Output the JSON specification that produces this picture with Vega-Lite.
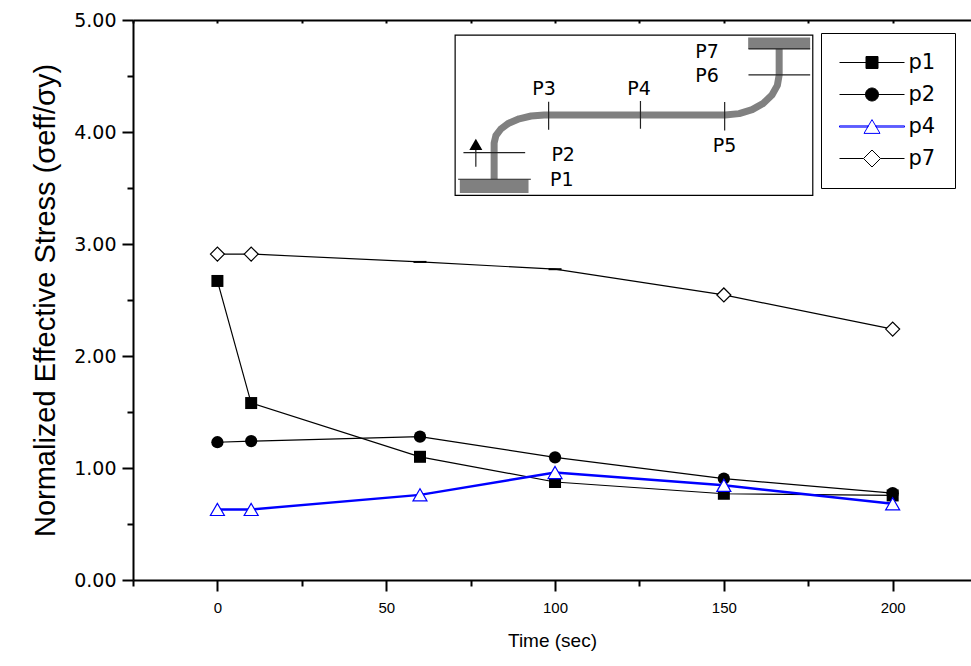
{
  "$schema": "https://vega.github.io/schema/vega-lite/v6.json",
  "width": 838,
  "height": 560,
  "autosize": "none",
  "padding": {"left": 133, "top": 20, "right": 0, "bottom": 86},
  "background": "white",
  "datasets": {
    "stress": [
      {"series": "p1", "x": 0, "y": 2.67}, {"series": "p1", "x": 10, "y": 1.58}, {"series": "p1", "x": 60, "y": 1.1},
      {"series": "p1", "x": 100, "y": 0.875}, {"series": "p1", "x": 150, "y": 0.77}, {"series": "p1", "x": 200, "y": 0.755},
      {"series": "p2", "x": 0, "y": 1.23}, {"series": "p2", "x": 10, "y": 1.24}, {"series": "p2", "x": 60, "y": 1.28},
      {"series": "p2", "x": 100, "y": 1.095}, {"series": "p2", "x": 150, "y": 0.905}, {"series": "p2", "x": 200, "y": 0.775},
      {"series": "p4", "x": 0, "y": 0.63}, {"series": "p4", "x": 10, "y": 0.63}, {"series": "p4", "x": 60, "y": 0.76},
      {"series": "p4", "x": 100, "y": 0.96}, {"series": "p4", "x": 150, "y": 0.845}, {"series": "p4", "x": 200, "y": 0.68},
      {"series": "p7", "x": 0, "y": 2.91}, {"series": "p7", "x": 10, "y": 2.91}, {"series": "p7", "x": 60, "y": 2.84},
      {"series": "p7", "x": 100, "y": 2.775}, {"series": "p7", "x": 150, "y": 2.545}, {"series": "p7", "x": 200, "y": 2.24}
    ],
    "box": [{"x": 70.41, "x2": 176.34, "y": 3.435, "y2": 4.865}],
    "plates": [
      {"x": 71.8, "x2": 92.15, "y": 3.455, "y2": 3.575},
      {"x": 157.2, "x2": 175.56, "y": 4.74, "y2": 4.844}
    ],
    "pipe": [
      {"i": 1, "x": 81.96, "y": 3.578}, {"i": 2, "x": 81.96, "y": 3.902}, {"i": 3, "x": 82.47, "y": 3.967},
      {"i": 4, "x": 83.95, "y": 4.027}, {"i": 5, "x": 86.29, "y": 4.079}, {"i": 6, "x": 89.37, "y": 4.118},
      {"i": 7, "x": 92.92, "y": 4.143}, {"i": 8, "x": 96.77, "y": 4.152}, {"i": 9, "x": 150.38, "y": 4.152},
      {"i": 10, "x": 154.53, "y": 4.164}, {"i": 11, "x": 158.38, "y": 4.2}, {"i": 12, "x": 161.7, "y": 4.256},
      {"i": 13, "x": 164.25, "y": 4.33}, {"i": 14, "x": 165.85, "y": 4.416}, {"i": 15, "x": 166.38, "y": 4.509},
      {"i": 16, "x": 166.38, "y": 4.746}
    ],
    "segs": [
      {"x": 71.3, "x2": 92.83, "y": 3.578, "y2": 3.578},
      {"x": 72.87, "x2": 91.15, "y": 3.815, "y2": 3.815},
      {"x": 76.54, "x2": 76.54, "y": 3.69, "y2": 3.85},
      {"x": 98.1, "x2": 98.1, "y": 4.02, "y2": 4.27},
      {"x": 125.3, "x2": 125.3, "y": 4.029, "y2": 4.277},
      {"x": 150.24, "x2": 150.24, "y": 4.013, "y2": 4.268},
      {"x": 157.29, "x2": 175.56, "y": 4.51, "y2": 4.51},
      {"x": 157.29, "x2": 175.56, "y": 4.742, "y2": 4.742}
    ],
    "arrow": [{"x": 76.54, "y": 3.89}],
    "tags": [
      {"label": "P1", "x": 102.0, "y": 3.57},
      {"label": "P2", "x": 102.4, "y": 3.795},
      {"label": "P3", "x": 96.75, "y": 4.381},
      {"label": "P4", "x": 124.85, "y": 4.381},
      {"label": "P5", "x": 150.18, "y": 3.878},
      {"label": "P6", "x": 145.03, "y": 4.503},
      {"label": "P7", "x": 145.03, "y": 4.713}
    ]
  },
  "encoding": {
    "x": {"field": "x", "type": "quantitative", "scale": {"domain": [-25, 223.2], "nice": false, "zero": false}, "axis": null},
    "y": {"field": "y", "type": "quantitative", "scale": {"domain": [0, 5], "nice": false, "zero": false}, "axis": null}
  },
  "layer": [
    {
      "data": {"name": "box"},
      "mark": {"type": "rect", "fill": "white", "stroke": "black", "strokeWidth": 1.2},
      "encoding": {
        "x": {
          "field": "x", "type": "quantitative",
          "scale": {"domain": [-25, 223.2], "nice": false, "zero": false},
          "axis": {
            "orient": "bottom", "values": [0, 50, 100, 150, 200], "format": "d", "tickSize": 11,
            "labelFont": "Liberation Sans", "labelFontSize": 15, "labelPadding": 9,
            "title": "Time (sec)", "titleFont": "Liberation Sans", "titleFontSize": 19, "titlePadding": 16
          }
        },
        "x2": {"field": "x2"},
        "y": {
          "field": "y", "type": "quantitative",
          "scale": {"domain": [0, 5], "nice": false, "zero": false},
          "axis": {
            "orient": "left", "values": [0, 1, 2, 3, 4, 5], "format": ".2f", "tickSize": 11,
            "labelFont": "DejaVu Sans", "labelFontSize": 19, "labelPadding": 6,
            "title": "Normalized Effective Stress  (σeff/σy)", "titleFont": "Liberation Sans", "titleFontSize": 29, "titlePadding": 13
          }
        },
        "y2": {"field": "y2"}
      }
    },
    {
      "data": {"name": "plates"},
      "mark": {"type": "rect", "fill": "#808080"},
      "encoding": {
        "x": {
          "field": "x", "type": "quantitative",
          "scale": {"domain": [-25, 223.2], "nice": false, "zero": false},
          "axis": {"orient": "bottom", "values": [-25, 25, 75, 125, 175], "tickSize": 6, "labels": false, "domain": false, "title": null}
        },
        "x2": {"field": "x2"},
        "y": {
          "field": "y", "type": "quantitative",
          "scale": {"domain": [0, 5], "nice": false, "zero": false},
          "axis": {"orient": "left", "values": [0.5, 1.5, 2.5, 3.5, 4.5], "tickSize": 6, "labels": false, "domain": false, "title": null}
        },
        "y2": {"field": "y2"}
      }
    },
    {
      "data": {"name": "pipe"},
      "mark": {"type": "line", "color": "#808080", "strokeWidth": 7, "strokeCap": "butt", "strokeJoin": "round"},
      "encoding": {
        "x": {
          "field": "x", "type": "quantitative",
          "scale": {"domain": [-25, 223.2], "nice": false, "zero": false},
          "axis": {"orient": "top", "values": [-25, 0, 25, 50, 75, 100, 125, 150, 175, 200], "tickSize": -3, "labels": false, "title": null}
        },
        "order": {"field": "i", "type": "quantitative"}
      }
    },
    {
      "data": {"name": "segs"},
      "mark": {"type": "rule", "color": "#222222", "strokeWidth": 1.2},
      "encoding": {"x2": {"field": "x2"}, "y2": {"field": "y2"}}
    },
    {
      "data": {"name": "arrow"},
      "mark": {"type": "point", "shape": "triangle-up", "filled": true, "color": "black", "opacity": 1, "size": 169}
    },
    {
      "data": {"name": "tags"},
      "mark": {"type": "text", "font": "DejaVu Sans", "fontSize": 19, "align": "center", "baseline": "middle", "color": "black"},
      "encoding": {"text": {"field": "label", "type": "nominal"}}
    },
    {
      "data": {"name": "stress"},
      "transform": [{"filter": "datum.series != 'p4'"}],
      "mark": {"type": "line", "color": "black", "strokeWidth": 1.2},
      "encoding": {"detail": {"field": "series", "type": "nominal"}}
    },
    {
      "data": {"name": "stress"},
      "transform": [{"filter": "datum.series == 'p4'"}],
      "mark": {"type": "line", "color": "#0000ff", "strokeWidth": 2.5}
    },
    {
      "data": {"name": "stress"},
      "transform": [{"filter": "datum.series == 'p1'"}],
      "mark": {"type": "point", "shape": "square", "filled": true, "color": "black", "opacity": 1, "size": 144}
    },
    {
      "data": {"name": "stress"},
      "transform": [{"filter": "datum.series == 'p2'"}],
      "mark": {"type": "point", "shape": "circle", "filled": true, "color": "black", "opacity": 1, "size": 150}
    },
    {
      "data": {"name": "stress"},
      "transform": [{"filter": "datum.series == 'p4'"}],
      "mark": {"type": "point", "shape": "triangle-up", "fill": "white", "stroke": "#0000ff", "strokeWidth": 1.2, "opacity": 1, "size": 196}
    },
    {
      "data": {"name": "stress"},
      "transform": [{"filter": "datum.series == 'p7' && datum.x != 60 && datum.x != 100"}],
      "mark": {"type": "point", "shape": "diamond", "fill": "white", "stroke": "black", "strokeWidth": 1.2, "opacity": 1, "size": 196}
    },
    {
      "data": {"name": "stress"},
      "transform": [{"filter": "datum.series == 'p7' && (datum.x == 60 || datum.x == 100)"}],
      "mark": {"type": "point", "shape": "M-1,0H1", "filled": false, "stroke": "black", "strokeWidth": 2, "opacity": 1, "size": 169}
    },
    {
      "data": {"name": "stress"},
      "transform": [{"filter": "false"}],
      "mark": {"type": "point", "filled": true, "opacity": 1, "strokeWidth": 1},
      "encoding": {
        "shape": {
          "field": "series", "type": "nominal",
          "scale": {
            "domain": ["p1", "p2", "p4", "p7"],
            "range": [
              "M-3.25,0H3.25M-0.6,-0.6H0.6V0.6H-0.6Z",
              "M-3.25,0H3.25M0.65,0A0.65,0.65,0,1,1,-0.65,0A0.65,0.65,0,1,1,0.65,0Z",
              "M-3.25,-0.06H-0.4V0.06H-3.25ZM0.4,-0.06H3.25V0.06H0.4ZM0,-0.69L0.8,0.69H-0.8Z",
              "M-3.25,0H-0.85M0.85,0H3.25M-0.85,0L0,-0.85L0.85,0L0,0.85Z"
            ]
          },
          "legend": {"title": null}
        },
        "fill": {
          "field": "series", "type": "nominal",
          "scale": {"domain": ["p1", "p2", "p4", "p7"], "range": ["black", "black", "white", "white"]},
          "legend": {"title": null}
        },
        "stroke": {
          "field": "series", "type": "nominal",
          "scale": {"domain": ["p1", "p2", "p4", "p7"], "range": ["black", "black", "#0000ff", "black"]},
          "legend": {"title": null}
        }
      }
    }
  ],
  "resolve": {"axis": {"x": "independent", "y": "independent"}},
  "config": {
    "view": {"stroke": null},
    "font": "Liberation Sans",
    "axis": {
      "domainColor": "black", "domainWidth": 2, "tickColor": "black", "tickWidth": 2,
      "labelColor": "black", "titleColor": "black", "titleFontWeight": "normal",
      "grid": false, "labelFlush": false, "labelOverlap": false
    },
    "legend": {
      "orient": "none", "legendX": 688, "legendY": 13, "padding": 19,
      "strokeColor": "black", "fillColor": "white",
      "symbolSize": 400, "symbolStrokeWidth": 1, "symbolOffset": 21.5, "labelOffset": 26,
      "rowPadding": 10, "labelFont": "DejaVu Sans", "labelFontSize": 21, "labelColor": "black"
    }
  }
}
